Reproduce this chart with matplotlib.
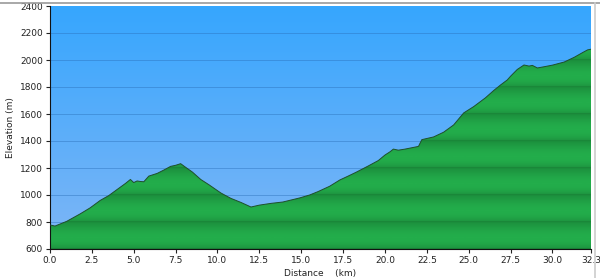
import numpy as np
import matplotlib.pyplot as plt
from matplotlib.colors import LinearSegmentedColormap
from matplotlib.lines import Line2D

# distance (km) and elevation (m)
distance = [0.0, 0.3, 1.0, 1.8, 2.4, 3.0, 3.5, 4.0, 4.5, 4.8, 5.0, 5.2, 5.4, 5.6,
            5.9, 6.4, 6.8, 7.2, 7.5, 7.8, 8.1, 8.5, 9.0, 9.5, 10.2, 10.8, 11.4,
            12.0, 12.5, 13.2, 13.9, 14.9, 15.5, 16.0, 16.7, 17.3, 17.8, 18.3,
            19.0, 19.6, 20.0, 20.3, 20.5, 20.8, 21.2, 21.6, 22.0, 22.2, 22.9,
            23.5, 24.1, 24.7, 25.3, 26.0, 26.5, 26.9, 27.3, 27.5, 27.9, 28.3,
            28.6, 28.8, 29.1, 29.5, 30.0, 30.7, 31.3, 31.8, 32.1, 32.3]
elevation = [778, 770, 805, 860, 905, 960, 995, 1040, 1085, 1115, 1092, 1104, 1100, 1098,
             1140, 1160, 1185, 1212, 1220, 1232, 1205, 1170, 1115, 1075, 1015, 975, 945,
             911, 925, 938, 948, 978, 1000, 1025, 1065, 1111, 1140, 1170,
             1215, 1255, 1296, 1320, 1340, 1332, 1340, 1350, 1360, 1410, 1430,
             1465, 1519, 1608, 1655, 1720, 1775, 1815, 1852, 1880, 1930, 1963,
             1955, 1960, 1941, 1950, 1962, 1985, 2020, 2055, 2075, 2080]

y_ticks = [600, 800, 1000, 1200, 1400, 1600, 1800, 2000, 2200, 2400]
x_ticks = [0.0, 2.5, 5.0, 7.5, 10.0, 12.5, 15.0, 17.5, 20.0, 22.5, 25.0, 27.5, 30.0, 32.3]
x_max = 32.3

fig = plt.figure(figsize=(6, 2.78), dpi=100)
ax = fig.add_axes([50 / 600, 29 / 278, 541 / 600, 243 / 278])

# blue sky gradient
sky = LinearSegmentedColormap.from_list("sky", ["#7fb6f6", "#36a6fe"])
ax.imshow(np.linspace(0, 1, 256).reshape(-1, 1), cmap=sky, origin="lower",
          extent=[0, x_max, 600, 2400], aspect="auto", zorder=0)

# grid lines over the sky
for y in y_ticks[1:-1]:
    ax.axhline(y, color="#2a6fb8", lw=0.6, alpha=0.5, zorder=0.5)

# green banded fill, one band per 200 m
yy = np.linspace(600, 2400, 1800)
t = ((yy - 600) % 200) / 200.0
shade = 0.5 + 0.5 * np.sin(np.pi * t ** 0.8)
shade[t < 0.02] = 0.15
green = LinearSegmentedColormap.from_list("green", ["#15712f", "#23ad4b"])
img = ax.imshow(shade.reshape(-1, 1), cmap=green, origin="lower", vmin=0, vmax=1,
                extent=[0, x_max, 600, 2400], aspect="auto", zorder=1)
poly = ax.fill_between(distance, elevation, 600, color="none", zorder=1)
img.set_clip_path(poly.get_paths()[0], transform=ax.transData)
ax.plot(distance, elevation, color="#1f4f2c", lw=0.7, zorder=3)

ax.set_xlim(0, x_max)
ax.set_ylim(600, 2400)
ax.set_xticks(x_ticks)
ax.set_xticklabels([f"{v:.1f}" for v in x_ticks])
ax.set_yticks(y_ticks)
ax.tick_params(labelsize=6.5, colors="#222222", length=3, width=0.8, pad=2)
for s in ["top", "right"]:
    ax.spines[s].set_visible(False)
ax.spines["left"].set_color("#111111")
ax.spines["bottom"].set_color("#111111")
ax.set_xlabel("Distance    (km)", fontsize=6.5, color="#222222", labelpad=3)
ax.set_ylabel("Elevation (m)", fontsize=6.5, color="#222222", labelpad=4)

# outer frame bits
fig.add_artist(Line2D([0, 1], [0.99, 0.99], color="#999999", lw=1.2))
fig.add_artist(Line2D([595 / 600, 595 / 600], [0, 0.99], color="#cccccc", lw=1.2))

fig.savefig("out.png", dpi=100)
